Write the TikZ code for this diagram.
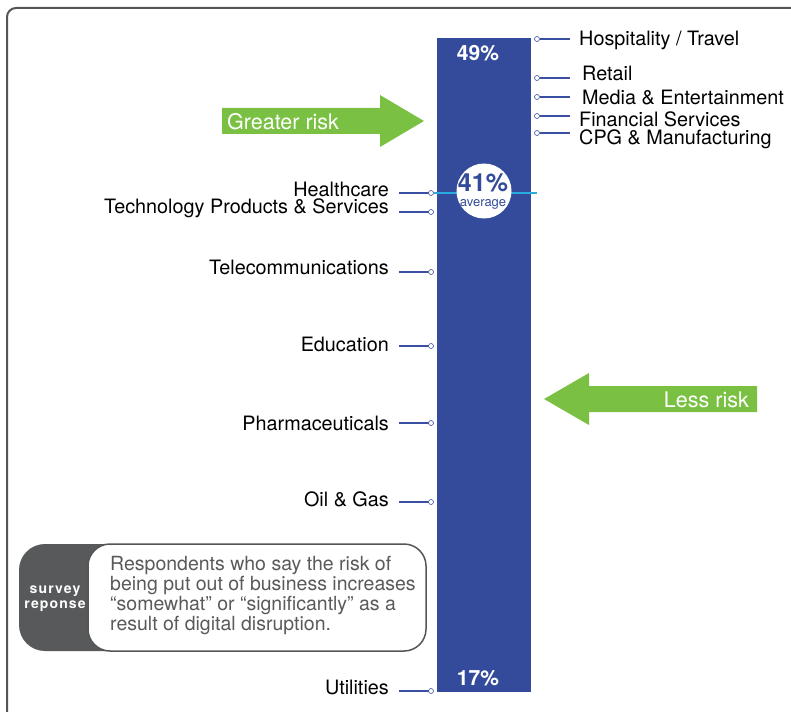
\documentclass[tikz,border=0pt]{standalone}
\usepackage{fontspec}
\setmainfont{TeX Gyre Heros}
\usetikzlibrary{positioning}

\definecolor{barblue}{RGB}{52,75,155}
\definecolor{tickblue}{RGB}{58,78,162}
\definecolor{riskgreen}{RGB}{122,193,67}
\definecolor{avgcyan}{RGB}{41,171,226}
\definecolor{framegrey}{RGB}{85,85,85}
\definecolor{boxgrey}{RGB}{88,89,91}
\definecolor{bodygrey}{RGB}{90,90,90}

\begin{document}
\begin{tikzpicture}[
    x=1pt, y=-1pt,
    sector label/.style={font=\fontsize{19.8}{22}\selectfont,inner sep=0pt},
    tick dot/.style={circle,draw=tickblue,fill=white,line width=0.6pt,inner sep=0pt,minimum size=5pt},
    tick line/.style={draw=tickblue,line width=1.3pt},
    pct label/.style={font=\bfseries\fontsize{21}{24}\selectfont,text=white,inner sep=0pt},
    risk label/.style={font=\fontsize{21.5}{24}\selectfont,text=white,inner sep=0pt}]

  \useasboundingbox (0,0) rectangle (791,711);
  \clip (0,0) rectangle (791,711);

  % frame
  \draw[framegrey,line width=2pt,rounded corners=9pt] (810,8) -- (7,8) -- (7,730);

  % bar
  \node[fill=barblue,inner sep=0pt,minimum width=94pt,minimum height=654pt,anchor=north west] (bar) at (437,38) {};
  \node[pct label] (toppct) at (478,53) {49\%};
  \node[pct label] (botpct) at (478,678) {17\%};

  % right side sectors
  \node[tick dot] (hospdot) at (537,39) {};
  \node[tick dot] (retaildot) at (537,78) {};
  \node[tick dot] (mediadot) at (537,97) {};
  \node[tick dot] (findot) at (537,116) {};
  \node[tick dot] (cpgdot) at (537,133) {};
  \coordinate (hospend) at (570,39);
  \coordinate (retailend) at (570,78);
  \coordinate (mediaend) at (570,97);
  \coordinate (finend) at (570,116);
  \coordinate (cpgend) at (570,133);
  \node[sector label,anchor=west] (hosp) at (579,40.5) {Hospitality / Travel};
  \node[sector label,anchor=west] (retail) at (582,73) {Retail};
  \node[sector label,anchor=west] (media) at (582,98) {Media \& Entertainment};
  \node[sector label,anchor=west] (fin) at (579,119.5) {Financial Services};
  \node[sector label,anchor=west] (cpg) at (579,139) {CPG \& Manufacturing};

  % left side sectors
  \node[sector label,anchor=east] (health) at (389,189) {Healthcare};
  \node[sector label,anchor=east] (tech) at (389,208.5) {Technology Products \& Services};
  \node[sector label,anchor=east] (telecom) at (389,267) {Telecommunications};
  \node[sector label,anchor=east] (edu) at (389,344) {Education};
  \node[sector label,anchor=east] (pharma) at (389,423) {Pharmaceuticals};
  \node[sector label,anchor=east] (oil) at (389,499) {Oil \& Gas};
  \node[sector label,anchor=east] (util) at (389,687) {Utilities};
  \coordinate (healthend) at (399,193);
  \coordinate (techend) at (399,212);
  \coordinate (telecomend) at (399,272);
  \coordinate (eduend) at (399,346);
  \coordinate (pharmaend) at (399,423);
  \coordinate (oilend) at (399,502);
  \coordinate (utilend) at (399,691);
  \coordinate (avgend) at (537,193);

  \path[tick line]
    (hospdot) edge (hospend)
    (retaildot) edge (retailend)
    (mediadot) edge (mediaend)
    (findot) edge (finend)
    (cpgdot) edge (cpgend)
    (healthend) edge (431,193)
    (techend) edge (431,212)
    (telecomend) edge (431,272)
    (eduend) edge (431,346)
    (pharmaend) edge (431,423)
    (oilend) edge (431,502)
    (utilend) edge (431,691);

  \node[tick dot] (healthdot) at (431,193) {};
  \node[tick dot] (techdot) at (431,212) {};
  \node[tick dot] (telecomdot) at (431,272) {};
  \node[tick dot] (edudot) at (431,346) {};
  \node[tick dot] (pharmadot) at (431,423) {};
  \node[tick dot] (oildot) at (431,502) {};
  \node[tick dot] (utildot) at (431,691) {};

  % average
  \draw[avgcyan,line width=1.6pt] (healthdot) -- (avgend);
  \node[circle,fill=white,inner sep=0pt,minimum size=55pt] (avg) at (484,191) {};
  \node[font=\bfseries\fontsize{25}{28}\selectfont,text=barblue,inner sep=0pt] (avgpct) at (483,183) {41\%};
  \node[font=\fontsize{13}{15}\selectfont,text=barblue,inner sep=0pt] (avgtxt) at (483,204) {average};

  % risk arrows
  \fill[riskgreen] (222,108) -- (380,108) -- (380,95) -- (424,121) -- (380,147) -- (380,134) -- (222,134) -- cycle;
  \node[risk label,anchor=west] (greater) at (227,122) {Greater risk};
  \fill[riskgreen] (757,386) -- (589,386) -- (589,373) -- (544,399) -- (589,425) -- (589,412) -- (757,412) -- cycle;
  \node[risk label,anchor=east] (less) at (749,400) {Less risk};

  % survey response box
  \fill[boxgrey,rounded corners=26pt] (19,544) rectangle (160,651);
  \draw[framegrey,line width=1.5pt,fill=white,rounded corners=22pt] (88,544) rectangle (426,651);
  \node[font=\bfseries\fontsize{14}{15}\selectfont\addfontfeatures{LetterSpace=8},text=white,align=center,inner sep=0pt] (tag) at (55,599) {survey\\reponse};
  \node[anchor=north west,align=left,text=bodygrey,font=\fontsize{19.5}{20}\selectfont,inner sep=0pt] (note) at (110,556) {Respondents who say the risk of\\being put out of business increases\\“somewhat” or “significantly” as a\\result of digital disruption.};
\end{tikzpicture}
\end{document}
